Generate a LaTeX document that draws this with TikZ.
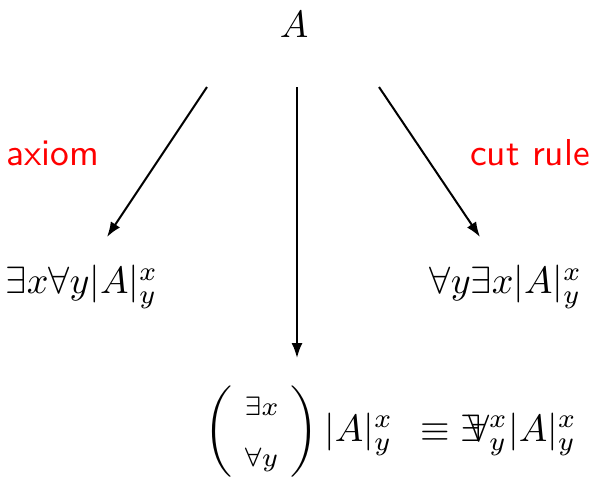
\documentclass[tikz,border=0pt]{standalone}
\usepackage{amsmath,mathtools}
\usetikzlibrary{arrows.meta}
\begin{document}
\begin{tikzpicture}[x=1pt,y=-1pt,
  lbl/.style={font=\sffamily, text=red, scale=3.75},
  mth/.style={scale=3.8, inner sep=0pt},
  arr/.style={-{Latex[length=15pt,width=11pt]}, line width=2pt}]
\useasboundingbox (0,0) rectangle (592,480);
\node[mth] (A) at (294,25) {$A$};
\node[mth] (L) at (82,287) {$\exists x\forall y|A|^x_y$};
\node[mth] (R) at (506,287) {$\forall y\exists x|A|^x_y$};
\node[mth] (B) at (391,432) {$\setlength{\arraycolsep}{3pt}\left(\begin{array}{c}\scriptstyle\exists x\\[1.5pt]\scriptstyle\forall y\end{array}\right)|A|^x_y\;\,\equiv\exists\mkern-6.5mu\forall^x_y|A|^x_y$};
\node[lbl] (ax) at (53,153) {axiom};
\node[lbl] (cr) at (530,153) {cut rule};
\coordinate (s1) at (207,87);
\coordinate (s2) at (297,87);
\coordinate (s3) at (379,87);
\coordinate (e1) at (107,237);
\coordinate (e2) at (297,358);
\coordinate (e3) at (480,237);
\draw[arr] (s1) -- (e1);
\draw[arr] (s2) -- (e2);
\draw[arr] (s3) -- (e3);
\end{tikzpicture}
\end{document}
